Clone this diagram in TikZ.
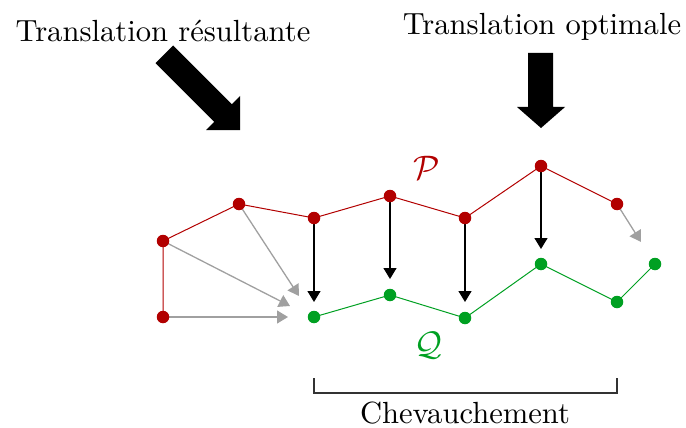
\RequirePackage{fix-cm}
\documentclass[tikz,border=0pt]{standalone}
\usepackage{fontspec}
\setmainfont{lmroman10-regular}[Extension=.otf]
\usetikzlibrary{arrows.meta,backgrounds}
\definecolor{pred}{RGB}{178,0,0}
\definecolor{qgreen}{RGB}{0,160,34}
\definecolor{tgray}{RGB}{160,160,160}
\begin{document}
\begin{tikzpicture}[x=1pt,y=-1pt,
  rdot/.style={circle,fill=pred,inner sep=0pt,minimum size=12.5pt},
  gdot/.style={circle,fill=qgreen,inner sep=0pt,minimum size=12.5pt},
  pline/.style={pred,line width=1pt},
  qline/.style={qgreen,line width=1pt},
  opt/.style={black,line width=1.3pt,-{Triangle[length=11pt,width=13pt]},shorten <=-6pt},
  res/.style={tgray,line width=1.3pt,-{Triangle[length=11pt,width=13pt]},shorten <=-6pt},
  big/.style={font=\fontsize{30.6}{36}\selectfont},
  bigarrow/.style={fill=black}]
\path[use as bounding box] (0,0) rectangle (686,428);
% P
\node[rdot] (p0) at (163,317) {};
\node[rdot] (p1) at (163,241) {};
\node[rdot] (p2) at (239,204) {};
\node[rdot] (p3) at (314,218) {};
\node[rdot] (p4) at (390,196) {};
\node[rdot] (p5) at (465,218) {};
\node[rdot] (p6) at (541,166) {};
\node[rdot] (p7) at (617,204) {};
% Q
\node[gdot] (q0) at (314,317) {};
\node[gdot] (q1) at (390,295) {};
\node[gdot] (q2) at (465,318) {};
\node[gdot] (q3) at (541,264) {};
\node[gdot] (q4) at (617,302) {};
\node[gdot] (q5) at (655,264) {};
% arrow ends
\coordinate (o3) at (314,302);
\coordinate (o4) at (390,279);
\coordinate (o5) at (465,302);
\coordinate (o6) at (541,249);
\coordinate (r0) at (288,317);
\coordinate (r1) at (290,306);
\coordinate (r2) at (299,296);
\coordinate (r7) at (641,242);
\begin{scope}[on background layer]
\draw[pline] (p0.center) -- (p1.center) -- (p2.center) -- (p3.center) -- (p4.center) -- (p5.center) -- (p6.center) -- (p7.center);
\draw[qline] (q0.center) -- (q1.center) -- (q2.center) -- (q3.center) -- (q4.center) -- (q5.center);
\draw[opt] (p3) -- (o3);
\draw[opt] (p4) -- (o4);
\draw[opt] (p5) -- (o5);
\draw[opt] (p6) -- (o6);
\draw[res] (p0) -- (r0);
\draw[res] (p1) -- (r1);
\draw[res] (p2) -- (r2);
\draw[res] (p7) -- (r7);
\end{scope}
% labels
\node[pred,font=\fontsize{34}{38}\selectfont] (lp) at (427,168) {$\mathcal{P}$};
\node[qgreen,font=\fontsize{34}{38}\selectfont] (lq) at (428,346) {$\mathcal{Q}$};
\node[big,anchor=base] (tres) at (163,42) {Translation résultante};
\node[big,anchor=base] (topt) at (542,35) {Translation optimale};
\node[big,anchor=base] (chev) at (465,423) {Chevauchement};
% bracket
\coordinate (b0) at (314,378);
\coordinate (b1) at (617,378);
\draw[line width=1.4pt,black!80] (b0) -- (b0 |- 0,393) -- (b1 |- 0,393) -- (b1);
% big arrows
\fill[bigarrow] (173.2,45.5) -- (155.5,63.2) -- (214.2,121.9) -- (206,130.1) -- (240,130) -- (240,96) -- (231.9,104.2) -- cycle;
\fill[bigarrow] (528,53) -- (553,53) -- (553,107) -- (565,107) -- (541,128) -- (517,107) -- (528,107) -- cycle;
\end{tikzpicture}
\end{document}
